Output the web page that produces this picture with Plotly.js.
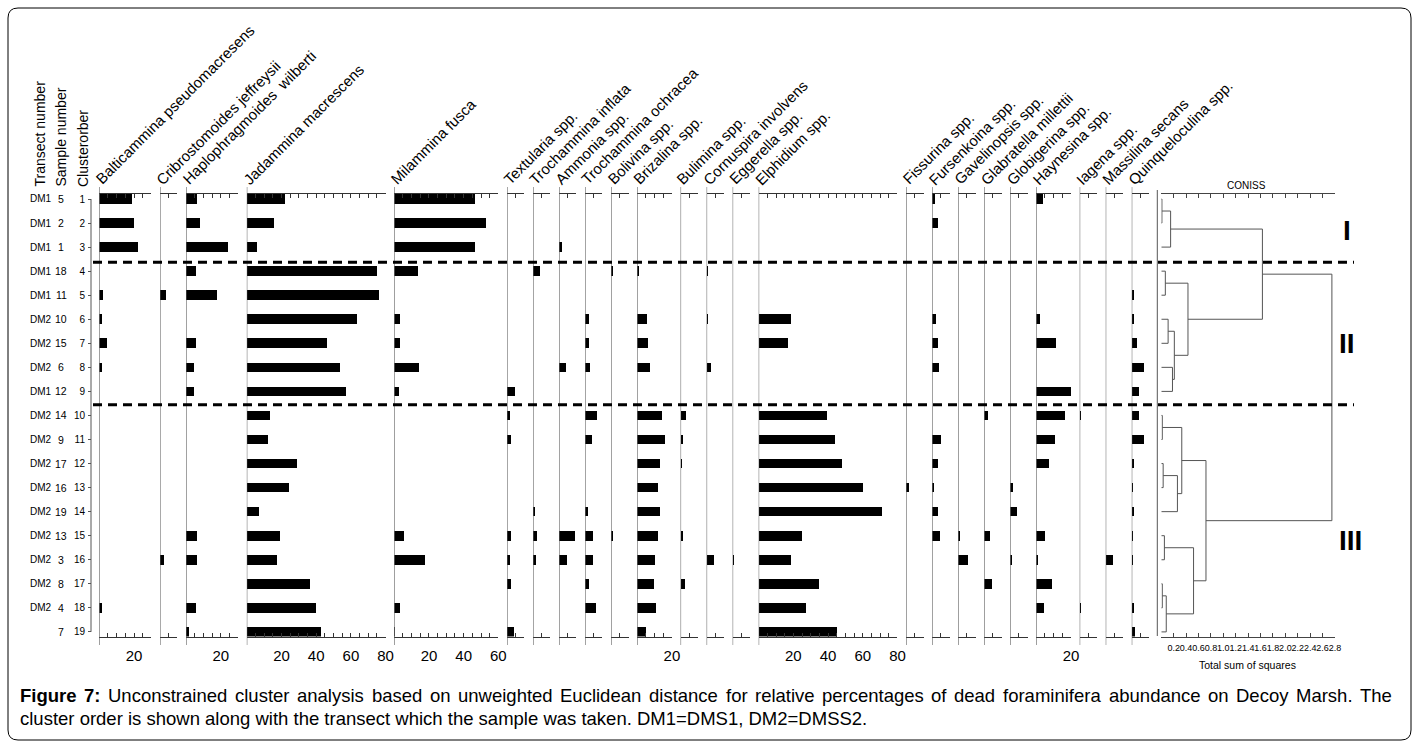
<!DOCTYPE html>
<html><head><meta charset="utf-8">
<script src="https://cdn.plot.ly/plotly-3.0.1.min.js"></script>
<style>html,body{margin:0;padding:0;background:#fff;}#chart{width:1419px;height:748px;}</style>
</head><body><div id="chart"></div>
<script>
// ---------------- DATA ----------------
const speciesNames = ["Balticammina pseudomacresens","Cribrostomoides jeffreysii","Haplophragmoides\u00a0 wilberti","Jadammina macrescens","Milammina fusca","Textularia spp.","Trochammina inflata","Ammonia spp.","Trochammina ochracea","Bolivina spp.","Brizalina spp.","Bulimina spp.","Cornuspira involvens","Eggerella spp.","Elphidium spp.","Fissurina spp.","Fursenkoina spp.","Gavelinopsis spp.","Glabratella millettii","Globigerina spp.","Haynesina spp.","Iagena spp.","Massilina secans","Quinqueloculina spp."];
const axisMax = [30,10,30,80,60,10,10,10,10,10,20,10,10,10,80,10,10,10,10,10,20,10,10,10];
const axisLabels = [[20],[],[20],[20,40,60,80],[20,40,60],[],[],[],[],[],[20],[],[],[],[20,40,60,80],[],[],[],[],[],[20],[],[],[]];
const clusterOrder = [1,2,3,4,5,6,7,8,9,10,11,12,13,14,15,16,17,18,19];
const transect = ["DM1","DM1","DM1","DM1","DM1","DM2","DM2","DM2","DM1","DM2","DM2","DM2","DM2","DM2","DM2","DM2","DM2","DM2",""];
const sampleNumber = ["5","2","1","18","11","10","15","6","12","14","9","17","16","19","13","3","8","4","7"];

const balticammina   = [19,20,22.5,0,2,1.3,4.6,1.5,0,0,0,0,0,0,0,0,0,1.5,0];
const cribrostomoides= [0,0,0,0,3.5,0,0,0,0,0,0,0,0,0,0,2,0,0,0];
const haplophragmoides=[6.5,8.3,24,6,17.7,0,5.6,4.4,4.4,0,0,0,0,0,6.5,6.5,0,5.6,1.9];
const jadammina      = [22,15.8,6,75,76.4,63.5,46,54,57.3,13.5,12,28.7,24.6,7.1,19.4,17.5,36.7,40,42.5];
const milammina      = [46.4,52.9,46.4,13.7,0,3.1,3.5,14.4,2.9,0,0,0,0,0,5.8,18,0,3.5,0.6];
const textularia     = [0,0,0,0,0,0,0,0,4.4,1.5,2.3,0,0,0,2.3,1.5,2.3,0,3.8];
const trochInflata   = [0,0,0,3.7,0,0,0,0,0,0,0,0,0,1.3,2.5,1.9,0,0,0];
const ammonia        = [0,0,1.5,0,0,0,0,3.8,0,0,0,0,0,0,9.2,4.4,0,0,0];
const trochOchracea  = [0,0,0,0,0,2.3,2.3,2.9,0,6.7,3.8,0,0,1.5,4.6,4.6,2.3,6.3,0];
const bolivina       = [0,0,0,1,0,0,0,0,0,0,0,0,0,0,0.8,0,0,0,0];
const brizalina      = [0,0,0,1.1,0,5.4,6,7.5,0,14.2,15.8,12.9,11.7,12.9,11.7,10.2,9.4,10.6,4.8];
const bulimina       = [0,0,0,0,0,0,0,0,0,3.3,1.5,1,0,0,1.5,0,2.7,0,0];
const cornuspira     = [0,0,0,1,0,1,0,2.3,0,0,0,0,0,0,0,4.4,0,0,0];
const eggerella      = [0,0,0,0,0,0,0,0,0,0,0,0,0,0,0,1,0,0,0];
const elphidium      = [0,0,0,0,0,18.7,17.1,0,0,39.4,43.8,47.9,60.2,71.3,25.2,18.5,34.6,27.3,45];
const fissurina      = [0,0,0,0,0,0,0,0,0,0,0,0,1.5,0,0,0,0,0,0];
const fursenkoina    = [1.9,3.1,0,0,0,2.3,3.1,3.7,0,0,5,3.3,1.2,3.3,4.4,0,0,0,0];
const gavelinopsis   = [0,0,0,0,0,0,0,0,0,0,0,0,0,0,0.8,5.6,0,0,0];
const glabratella    = [0,0,0,0,0,0,0,0,0,1.9,0,0,0,0,3.1,0,4.2,0,0];
const globigerina    = [0,0,0,0,0,0,0,0,0,0,0,0,1.3,3.7,0,1,0,0,0];
const haynesina      = [3.7,0,0,0,0,2.1,11.5,0,20,16.7,10.6,7.3,0,0,4.8,1,9,4.2,0];
const iagena         = [0,0,0,0,0,0,0,0,0,1,0,0,0,0,0,0,0,1,0];
const massilina      = [0,0,0,0,0,0,0,0,0,0,0,0,0,0,0,4.2,0,0,0];
const quinqueloculina= [0,0,0,0,1.2,1.5,3.3,7.3,4.4,4,6.9,1.3,1,1.3,1,1,0,1.3,2.1];

const speciesValues = [balticammina,cribrostomoides,haplophragmoides,jadammina,milammina,textularia,trochInflata,ammonia,trochOchracea,bolivina,brizalina,bulimina,cornuspira,eggerella,elphidium,fissurina,fursenkoina,gavelinopsis,glabratella,globigerina,haynesina,iagena,massilina,quinqueloculina];

// CONISS dendrogram: positive id = leaf (cluster order row), negative id = earlier merge (-1 = first merge)
const mergeA      = [1,-1,4,6,8,-4,-3,-2,10,12,-10,-9,15,17,-14,-13,-12,-8];
const mergeB      = [2,3,5,7,9,-5,-6,-7,11,13,14,-11,16,18,19,-15,-16,-17];
const mergeHeight = [0.01,0.15,0.065,0.11,0.18,0.21,0.43,1.63,0.016,0.03,0.26,0.33,0.05,0.016,0.08,0.52,0.72,2.75];
const conissTicks = [0.2,0.4,0.6,0.8,1.0,1.2,1.4,1.6,1.8,2.0,2.2,2.4,2.6,2.8];
const groupNames  = ["I","II","III"];

const captionLine1 = "Figure 7: Unconstrained cluster analysis based on unweighted Euclidean distance for relative percentages of dead foraminifera abundance on Decoy Marsh. The";
const captionLine2 = "cluster order is shown along with the transect which the sample was taken. DM1=DMS1, DM2=DMSS2.";

// ---------------- LAYOUT ----------------
const W = 1419, H = 748;
const FONT = 'Liberation Sans, Arial, Helvetica, sans-serif';
const px = v => v / W;
const py = v => 1 - v / H;
const ROW0 = 199, ROWH = 24.05;
const rowOf = p => 1 + (p - ROW0) / ROWH;
const AX_TOP = 193.5, AX_BOT = 636.5;

const traces = [];
const layout = {
  width: W, height: H, margin: {l:0,r:0,t:0,b:0,pad:0},
  paper_bgcolor: '#fff', plot_bgcolor: 'rgba(0,0,0,0)',
  showlegend: false, hovermode: false, bargap: 0,
  font: {family: FONT, color: '#000'},
  yaxis: {
    domain: [py(AX_BOT), py(AX_TOP)], range: [rowOf(AX_BOT), rowOf(AX_TOP)],
    anchor: 'free', position: px(91), side: 'left',
    showline: false, showgrid: false, zeroline: false,
    ticks: 'outside', ticklen: 3, tickcolor: '#555', tickwidth: 1,
    tickmode: 'array', tickvals: clusterOrder, ticktext: clusterOrder.map(String),
    tickfont: {family: FONT, size: 10, color: '#000'}, ticklabelstandoff: 1
  },
  shapes: [], annotations: []
};

const SCALE = 1.735, GAP = 8.68;
let xs = 99.3;
speciesValues.forEach((vals, k) => {
  const xe = xs + axisMax[k] * SCALE;
  const sfx = k === 0 ? '' : String(k + 1);
  const tv = [], tt = [];
  for (let t = 5; t <= axisMax[k] + 1e-9; t += 5) {
    tv.push(t); tt.push(axisLabels[k].includes(t) ? String(t) : '');
  }
  layout['xaxis' + sfx] = {
    domain: [px(xs), px(xe)], range: [0, axisMax[k]], anchor: 'y',
    showline: true, linecolor: '#333', linewidth: 1, mirror: 'ticks',
    ticks: 'inside', ticklen: 4, tickcolor: '#333', tickwidth: 1,
    tickmode: 'array', tickvals: tv, ticktext: tt, tickangle: 0,
    showgrid: false, zeroline: false,
    tickfont: {family: FONT, size: 15, color: '#000'}, ticklabelstandoff: 5
  };
  traces.push({
    type: 'bar', orientation: 'h', y: clusterOrder, x: vals,
    xaxis: 'x' + sfx, yaxis: 'y', width: 0.4,
    marker: {color: '#000', line: {width: 0}}, hoverinfo: 'skip', cliponaxis: false
  });
  // panel base line (zero)
  layout.shapes.push({type: 'line', xref: 'x' + sfx, yref: 'paper', x0: 0, x1: 0,
    y0: py(645), y1: py(187), line: {color: '#555', width: 1}});
  // header
  layout.annotations.push({
    text: speciesNames[k], xref: 'x' + sfx, x: 0, xshift: -7, yref: 'paper', y: py(187.7),
    xanchor: 'left', yanchor: 'bottom', textangle: -45, showarrow: false,
    borderpad: 0, borderwidth: 0, font: {family: FONT, size: 15, color: '#000'}
  });
  xs = xe + GAP;
});

// CONISS axis
const DX = 'x25';
layout.xaxis25 = {
  domain: [px(1161.3), px(1335)], range: [0, 2.8], anchor: 'y',
  showline: true, linecolor: '#444', linewidth: 1, mirror: 'ticks',
  ticks: 'inside', ticklen: 4, tickcolor: '#444', tickwidth: 1,
  tickmode: 'array', tickvals: conissTicks, ticktext: conissTicks.map(v => v.toFixed(1)), tickangle: 0,
  showgrid: false, zeroline: false,
  tickfont: {family: FONT, size: 9, color: '#000'}, ticklabelstandoff: 3
};
// dendrogram segments
const mY = [];
const yOf = id => id > 0 ? id : mY[-id - 1];
const hOf = id => id > 0 ? 0 : mergeHeight[-id - 1];
const dx = [], dy = [];
mergeA.forEach((a, i) => {
  const b = mergeB[i], h = mergeHeight[i];
  const ya = yOf(a), yb = yOf(b);
  mY[i] = (ya + yb) / 2;
  dx.push(hOf(a), h, h, hOf(b), null);
  dy.push(ya, ya, yb, yb, null);
});
traces.push({type: 'scatter', mode: 'lines', x: dx, y: dy, xaxis: DX, yaxis: 'y',
  line: {color: '#555', width: 1}, hoverinfo: 'skip', cliponaxis: false});
layout.shapes.push({type: 'line', xref: 'paper', yref: 'paper', x0: px(1157.3), x1: px(1157.3),
  y0: py(636), y1: py(190), line: {color: '#555', width: 1}});
layout.annotations.push({text: 'CONISS', xref: 'paper', yref: 'paper', x: px(1246.5), y: py(185),
  showarrow: false, font: {family: FONT, size: 10, color: '#000'}, xanchor: 'center', yanchor: 'middle'});
layout.annotations.push({text: 'Total sum of squares', xref: 'paper', yref: 'paper', x: px(1247), y: py(665),
  showarrow: false, font: {family: FONT, size: 10.5, color: '#000'}, xanchor: 'center', yanchor: 'middle'});

// group labels
const groupPos = [[1346.7, 230], [1346.7, 343.3], [1350.7, 540]];
groupNames.forEach((g, i) => layout.annotations.push({text: g, xref: 'paper', yref: 'paper',
  x: px(groupPos[i][0]), y: py(groupPos[i][1]), showarrow: false, xanchor: 'center', yanchor: 'middle',
  font: {family: FONT, size: 28, color: '#000', weight: 'bold'}}));

// cluster boundaries (dashed)
[rowOf(262.3), rowOf(404.7)].forEach(yv => layout.shapes.push({type: 'line', xref: 'paper', yref: 'y',
  x0: px(93), x1: px(1354), y0: yv, y1: yv, line: {color: '#000', width: 3, dash: '9px,6px'}}));

// cluster order axis line
layout.shapes.push({type: 'line', xref: 'paper', yref: 'y', x0: px(91), x1: px(91), y0: 1, y1: 19,
  line: {color: '#555', width: 1}});

// row labels
clusterOrder.forEach((r, i) => {
  if (transect[i]) layout.annotations.push({text: transect[i], xref: 'paper', yref: 'y', x: px(41), y: r,
    showarrow: false, xanchor: 'center', yanchor: 'middle', font: {family: FONT, size: 10, color: '#000'}});
  layout.annotations.push({text: sampleNumber[i], xref: 'paper', yref: 'y', x: px(61), y: r,
    showarrow: false, xanchor: 'center', yanchor: 'middle', font: {family: FONT, size: 10.5, color: '#000'}});
});
// column titles
[["Transect number", 39.5], ["Sample number", 60], ["Clusterorber", 82.5]].forEach(([t, x]) =>
  layout.annotations.push({text: t, xref: 'paper', yref: 'paper', x: px(x), y: py(187), textangle: -90,
    showarrow: false, xanchor: 'center', yanchor: 'bottom', borderpad: 0, borderwidth: 0,
    font: {family: FONT, size: 14, color: '#000'}}));

// caption (line 1 justified)
(function () {
  const CAP = 18.5;
  const c = document.createElement('canvas').getContext('2d');
  const words = captionLine1.split(' ');
  const bold = w => (w === 'Figure' || w === '7:');
  const widths = words.map(w => { c.font = (bold(w) ? 'bold ' : '') + CAP + 'px "Liberation Sans", Arial, sans-serif'; return c.measureText(w).width; });
  const total = widths.reduce((a, b) => a + b, 0);
  const x0 = 20, x1 = 1392;
  const gap = Math.max(3, (x1 - x0 - total) / (words.length - 1));
  let x = x0;
  words.forEach((w, i) => {
    layout.annotations.push({text: bold(w) ? '<b>' + w + '</b>' : w, xref: 'paper', yref: 'paper',
      x: px(x), y: py(695), xanchor: 'left', yanchor: 'middle', showarrow: false, borderpad: 0, borderwidth: 0,
      font: {family: FONT, size: CAP, color: '#000'}});
    x += widths[i] + gap;
  });
  layout.annotations.push({text: captionLine2, xref: 'paper', yref: 'paper', x: px(20), y: py(718),
    xanchor: 'left', yanchor: 'middle', showarrow: false, borderpad: 0, borderwidth: 0,
    font: {family: FONT, size: CAP, color: '#000'}});
})();

// rounded border
(function () {
  const x0 = 8, y0 = 8, x1 = 1411, y1 = 740, r = 10;
  const P = (x, y) => px(x) + ',' + py(y);
  const path = 'M' + P(x0 + r, y0) + ' L' + P(x1 - r, y0) + ' Q' + P(x1, y0) + ' ' + P(x1, y0 + r) +
    ' L' + P(x1, y1 - r) + ' Q' + P(x1, y1) + ' ' + P(x1 - r, y1) + ' L' + P(x0 + r, y1) +
    ' Q' + P(x0, y1) + ' ' + P(x0, y1 - r) + ' L' + P(x0, y0 + r) + ' Q' + P(x0, y0) + ' ' + P(x0 + r, y0) + ' Z';
  layout.shapes.push({type: 'path', xref: 'paper', yref: 'paper', path: path, line: {color: '#000', width: 1}});
})();

Plotly.newPlot('chart', traces, layout, {staticPlot: true, displayModeBar: false});
</script>
</body></html>
